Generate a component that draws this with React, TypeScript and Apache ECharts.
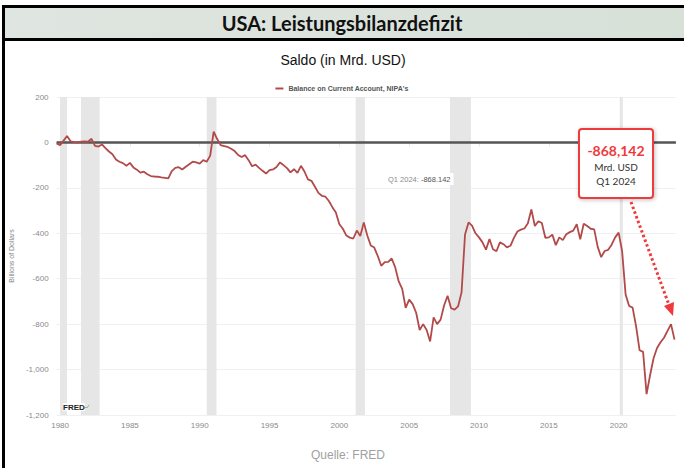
import React, { useEffect, useRef } from "react";
import * as echarts from "echarts";

const title = "USA: Leistungsbilanzdefizit";
const subtitle = "Saldo (in Mrd. USD)";
const source = "Quelle: FRED";
const seriesName = "Balance on Current Account, NIPA's";
const yAxisName = "Billions of Dollars";

const firstQuarter = 1979.75; // 1979 Q4
const values: number[] = [
  -4, -12, 8, 28, 5, 1, 0, 3, 4, 3, 16, -15, -18, -9, -25, -40, -52, -75, -85, -91,
  -103, -90, -110, -120, -133, -129, -140, -148, -150, -151, -154, -156, -158, -126, -112, -109, -119, -107, -96, -85,
  -88, -93, -78, -85, -58, 47, 15, -12, -16, -20, -28, -38, -55, -64, -56, -78, -105, -98, -112, -125,
  -137, -122, -119, -108, -88, -100, -113, -132, -118, -134, -103, -128, -163, -169, -195, -222, -235, -239, -258, -285,
  -308, -360, -380, -410, -419, -423, -388, -412, -352, -410, -454, -463, -500, -543, -527, -526, -511, -550, -612, -645,
  -728, -692, -712, -750, -826, -800, -826, -876, -770, -800, -780, -718, -675, -730, -736, -722, -660, -405, -352, -366,
  -400, -418, -440, -472, -425, -470, -479, -440, -448, -462, -455, -420, -392, -384, -379, -356, -295, -368, -347, -355,
  -420, -418, -406, -452, -418, -430, -404, -395, -388, -360, -427, -358, -368, -380, -383, -460, -505, -478, -473, -450,
  -418, -397, -480, -670, -720, -727, -810, -915, -922, -1108, -1025, -950, -905, -880, -860, -830, -800, -868.142,
];
const quarters: number[] = values.map((_, i) => firstQuarter + i * 0.25);

const recessionStarts = [1980.0, 1981.5, 1990.5, 2001.17, 2007.92, 2020.08];
const recessionEnds = [1980.5, 1982.83, 1991.2, 2001.83, 2009.42, 2020.3];

const yearTicks = [1980, 1985, 1990, 1995, 2000, 2005, 2010, 2015, 2020];
const lastLabel = "Q1 2024";
const lastValueText = "-868.142";
const calloutValue = "-868,142";
const calloutUnit = "Mrd. USD";

const LINE = "#b24a4a";
const RED = "#ee3a3c";
const SMALL = "'Liberation Sans Narrow', 'Liberation Sans', Arial, sans-serif";

export default function App() {
  const ref = useRef<HTMLDivElement>(null);
  useEffect(() => {
    document.body.style.margin = "0";
    const chart = echarts.init(ref.current!, null, { renderer: "svg" });
    const option: any = {
      animation: false,
      backgroundColor: "#ffffff",
      grid: { left: 54.5, right: 8.1, top: 97, bottom: 53 },
      legend: {
        top: 80,
        left: "center",
        data: [seriesName],
        icon: "rect",
        itemWidth: 8,
        itemHeight: 2,
        itemGap: 4,
        textStyle: { fontSize: 7, color: "#555", fontWeight: "bold", fontFamily: "'Liberation Sans', Arial, sans-serif" },
      },
      xAxis: {
        type: "value",
        min: firstQuarter,
        max: 2024.1,
        splitLine: { show: false },
        axisLine: { show: true, lineStyle: { color: "#dfe5ee", width: 1 } },
        axisTick: { show: true, customValues: yearTicks, length: 4, lineStyle: { color: "#dfe5ee" } },
        axisLabel: {
          customValues: yearTicks,
          fontSize: 8,
          color: "#8a8a8a",
          fontFamily: SMALL,
          margin: 6,
          formatter: (v: number) => String(Math.round(v)),
        },
      },
      yAxis: {
        type: "value",
        min: -1200,
        max: 200,
        interval: 200,
        name: yAxisName,
        nameLocation: "middle",
        nameGap: 37,
        nameTextStyle: { fontSize: 7, color: "#888", fontFamily: SMALL },
        axisLine: { show: false },
        axisTick: { show: false },
        splitLine: { lineStyle: { color: "#eef0f3", width: 1 } },
        axisLabel: {
          fontSize: 8,
          color: "#8a8a8a",
          fontFamily: SMALL,
          margin: 8,
          padding: [0, 0, 8, 0],
          formatter: (v: number) => v.toLocaleString("en-US"),
        },
      },
      series: [
        {
          name: seriesName,
          type: "line",
          data: quarters.map((q, i) => [q, values[i]]),
          showSymbol: false,
          symbol: "none",
          lineStyle: { color: LINE, width: 1.8 },
          itemStyle: { color: LINE },
          z: 5,
          markArea: {
            silent: true,
            itemStyle: { color: "#e6e6e6" },
            data: recessionStarts.map((s, i) => [{ xAxis: s }, { xAxis: recessionEnds[i] }]),
          },
          markLine: {
            silent: true,
            symbol: "none",
            label: { show: false },
            lineStyle: { color: "#555", width: 2.5, type: "solid" },
            data: [{ yAxis: 0 }],
          },
        },
      ],
      graphic: [
        // outer frame
        { type: "rect", shape: { x: 2, y: 5, width: 682, height: 3 }, style: { fill: "#000" }, z: 100 },
        { type: "rect", shape: { x: 2, y: 5, width: 3, height: 463 }, style: { fill: "#000" }, z: 100 },
        {
          type: "rect",
          shape: { x: 5, y: 8, width: 679, height: 30 },
          style: {
            fill: new echarts.graphic.LinearGradient(0, 0, 1, 0, [
              { offset: 0, color: "#dfe5e0" },
              { offset: 1, color: "#d7e1d8" },
            ]),
          },
          z: 99,
        },
        { type: "rect", shape: { x: 2, y: 38, width: 682, height: 3 }, style: { fill: "#000" }, z: 100 },
        {
          type: "text",
          x: 342,
          y: 23,
          style: {
            text: title,
            fontSize: 20,
            fontWeight: "bold",
            fontFamily: "Lato, 'Open Sans', sans-serif",
            fill: "#111",
            align: "center",
            verticalAlign: "middle",
          },
          z: 101,
        },
        {
          type: "text",
          x: 343,
          y: 60,
          style: {
            text: subtitle,
            fontSize: 14,
            fontFamily: "'Liberation Sans', Arial, sans-serif",
            fill: "#111",
            align: "center",
            verticalAlign: "middle",
          },
          z: 101,
        },
        {
          type: "text",
          x: 348,
          y: 455,
          style: {
            text: source,
            fontSize: 12,
            fontFamily: "'Liberation Sans', Arial, sans-serif",
            fill: "#a0a0a0",
            align: "center",
            verticalAlign: "middle",
          },
          z: 101,
        },
        // FRED logo
        {
          type: "text",
          x: 63,
          y: 407,
          style: {
            text: "FRED",
            fontSize: 8,
            fontWeight: "bold",
            fontFamily: "'Liberation Sans', Arial, sans-serif",
            fill: "#222",
            align: "left",
            verticalAlign: "middle",
            backgroundColor: "rgba(255,255,255,0.8)",
          },
          z: 50,
        },
        {
          type: "polyline",
          shape: { points: [[84, 409], [86, 407], [87, 408], [89, 405]] },
          style: { stroke: "#7fb07f", lineWidth: 0.8, fill: "none" },
          z: 50,
        },
        // last value label
        {
          type: "text",
          x: 385,
          y: 179,
          style: {
            text: "{a|" + lastLabel + ": }{b|" + lastValueText + "}",
            backgroundColor: "#fff",
            padding: [2, 3],
            verticalAlign: "middle",
            rich: {
              a: { fontSize: 7.5, fill: "#8a8a8a", fontFamily: SMALL },
              b: { fontSize: 7.5, fill: "#555", fontFamily: SMALL },
            },
          },
          z: 60,
        },
        // callout box
        {
          type: "rect",
          shape: { x: 579, y: 129, width: 74, height: 69, r: 3 },
          style: {
            fill: "#fff",
            stroke: RED,
            lineWidth: 2,
            shadowBlur: 4,
            shadowColor: "rgba(0,0,0,0.25)",
            shadowOffsetX: 1,
            shadowOffsetY: 1,
          },
          z: 70,
        },
        {
          type: "text",
          x: 616,
          y: 150,
          style: {
            text: calloutValue,
            fontSize: 14,
            fontWeight: "bold",
            fontFamily: "Lato, 'Open Sans', sans-serif",
            fill: RED,
            align: "center",
            verticalAlign: "middle",
          },
          z: 71,
        },
        {
          type: "text",
          x: 616,
          y: 167,
          style: {
            text: calloutUnit,
            fontSize: 10,
            fontFamily: "Lato, 'Open Sans', sans-serif",
            fill: "#333",
            align: "center",
            verticalAlign: "middle",
          },
          z: 71,
        },
        {
          type: "text",
          x: 616,
          y: 181,
          style: {
            text: lastLabel,
            fontSize: 10,
            fontFamily: "Lato, 'Open Sans', sans-serif",
            fill: "#333",
            align: "center",
            verticalAlign: "middle",
          },
          z: 71,
        },
        // dotted arrow
        {
          type: "line",
          shape: { x1: 631, y1: 202, x2: 669, y2: 305 },
          style: { stroke: RED, lineWidth: 3, lineDash: [2.5, 2.5] },
          z: 71,
        },
        {
          type: "polygon",
          shape: { points: [[664, 306], [674, 302], [673, 316]] },
          style: { fill: RED },
          z: 71,
        },
      ],
    };
    chart.setOption(option);
    return () => chart.dispose();
  }, []);
  return (
    <div
      ref={ref}
      style={{ position: "fixed", left: 0, top: 0, width: 684, height: 468 }}
    />
  );
}
